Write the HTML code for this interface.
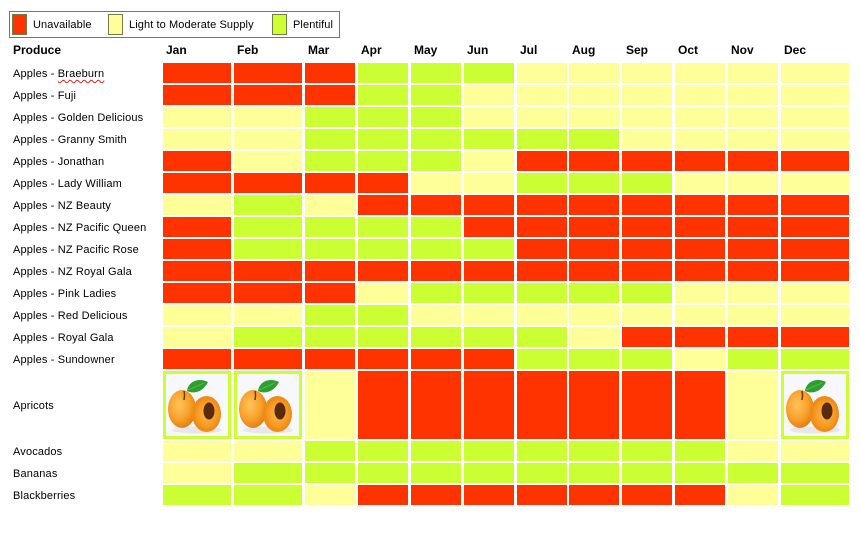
<!DOCTYPE html>
<html><head><meta charset="utf-8">
<style>
*{margin:0;padding:0;box-sizing:border-box}
html,body{width:860px;height:544px;background:#fff;overflow:hidden}
body{position:relative;font-family:"Liberation Sans",Arial,sans-serif;color:#000}
.lg{position:absolute;left:9px;top:11px;width:331px;height:27px;border:1px solid #6f7f45}
.sw{position:absolute;top:2px;width:15px;height:21px;border:1px solid #6f7f45}
.lt{position:absolute;top:0;line-height:26px;font-size:11px;white-space:nowrap;letter-spacing:0.1px}
.hd{position:absolute;top:43px;font-size:12px;font-weight:bold;line-height:14px;white-space:nowrap}
.row{position:absolute;left:0;width:860px;height:20px}
.lb{position:absolute;left:13px;top:1px;font-size:11px;line-height:20px;white-space:nowrap;letter-spacing:0.15px}
.x{position:absolute;top:0;height:100%;width:50px}
.R{background:#ff3300}.Y{background:#ffff99}.G{background:#ccff33}
.m1{left:163px;width:68px}.m2{left:234px;width:68px}.m3{left:305px}.m4{left:358px}.m5{left:411px}.m6{left:464px}
.m7{left:517px}.m8{left:569px}.m9{left:622px}.m10{left:675px}.m11{left:728px}.m12{left:781px;width:68px}
.I{background:#ccff33;padding:3px}
.I svg{display:block;width:62px;height:62px}
.wv{text-decoration:underline wavy #e02020;text-decoration-thickness:1px;text-underline-offset:2px}
</style></head><body>
<svg width="0" height="0" style="position:absolute">
<defs>
<radialGradient id="ga" cx="40%" cy="40%" r="65%"><stop offset="0" stop-color="#ffc45a"/><stop offset="0.6" stop-color="#f7a02a"/><stop offset="1" stop-color="#e07a10"/></radialGradient>
<radialGradient id="gb" cx="50%" cy="50%" r="60%"><stop offset="0" stop-color="#fdbb48"/><stop offset="1" stop-color="#f08a14"/></radialGradient>
</defs></svg>

<div class="lg">
 <div class="sw R" style="left:2px"></div>
 <div class="lt" style="left:23px">Unavailable</div>
 <div class="sw Y" style="left:98px"></div>
 <div class="lt" style="left:119px">Light to Moderate Supply</div>
 <div class="sw G" style="left:262px"></div>
 <div class="lt" style="left:283px">Plentiful</div>
</div>

<div class="hd" style="left:13px">Produce</div>
<div class="hd" style="left:166px">Jan</div>
<div class="hd" style="left:237px">Feb</div>
<div class="hd" style="left:308px">Mar</div>
<div class="hd" style="left:361px">Apr</div>
<div class="hd" style="left:414px">May</div>
<div class="hd" style="left:467px">Jun</div>
<div class="hd" style="left:520px">Jul</div>
<div class="hd" style="left:572px">Aug</div>
<div class="hd" style="left:626px">Sep</div>
<div class="hd" style="left:678px">Oct</div>
<div class="hd" style="left:731px">Nov</div>
<div class="hd" style="left:784px">Dec</div>

<div class="row" style="top:63px"><div class="lb">Apples - <span class="wv">Braeburn</span></div>
<div class="x m1 R"></div><div class="x m2 R"></div><div class="x m3 R"></div><div class="x m4 G"></div><div class="x m5 G"></div><div class="x m6 G"></div><div class="x m7 Y"></div><div class="x m8 Y"></div><div class="x m9 Y"></div><div class="x m10 Y"></div><div class="x m11 Y"></div><div class="x m12 Y"></div></div>

<div class="row" style="top:85px"><div class="lb">Apples - Fuji</div>
<div class="x m1 R"></div><div class="x m2 R"></div><div class="x m3 R"></div><div class="x m4 G"></div><div class="x m5 G"></div><div class="x m6 Y"></div><div class="x m7 Y"></div><div class="x m8 Y"></div><div class="x m9 Y"></div><div class="x m10 Y"></div><div class="x m11 Y"></div><div class="x m12 Y"></div></div>

<div class="row" style="top:107px"><div class="lb">Apples - Golden Delicious</div>
<div class="x m1 Y"></div><div class="x m2 Y"></div><div class="x m3 G"></div><div class="x m4 G"></div><div class="x m5 G"></div><div class="x m6 Y"></div><div class="x m7 Y"></div><div class="x m8 Y"></div><div class="x m9 Y"></div><div class="x m10 Y"></div><div class="x m11 Y"></div><div class="x m12 Y"></div></div>

<div class="row" style="top:129px"><div class="lb">Apples - Granny Smith</div>
<div class="x m1 Y"></div><div class="x m2 Y"></div><div class="x m3 G"></div><div class="x m4 G"></div><div class="x m5 G"></div><div class="x m6 G"></div><div class="x m7 G"></div><div class="x m8 G"></div><div class="x m9 Y"></div><div class="x m10 Y"></div><div class="x m11 Y"></div><div class="x m12 Y"></div></div>

<div class="row" style="top:151px"><div class="lb">Apples - Jonathan</div>
<div class="x m1 R"></div><div class="x m2 Y"></div><div class="x m3 G"></div><div class="x m4 G"></div><div class="x m5 G"></div><div class="x m6 Y"></div><div class="x m7 R"></div><div class="x m8 R"></div><div class="x m9 R"></div><div class="x m10 R"></div><div class="x m11 R"></div><div class="x m12 R"></div></div>

<div class="row" style="top:173px"><div class="lb">Apples - Lady William</div>
<div class="x m1 R"></div><div class="x m2 R"></div><div class="x m3 R"></div><div class="x m4 R"></div><div class="x m5 Y"></div><div class="x m6 Y"></div><div class="x m7 G"></div><div class="x m8 G"></div><div class="x m9 G"></div><div class="x m10 Y"></div><div class="x m11 Y"></div><div class="x m12 Y"></div></div>

<div class="row" style="top:195px"><div class="lb">Apples - NZ Beauty</div>
<div class="x m1 Y"></div><div class="x m2 G"></div><div class="x m3 Y"></div><div class="x m4 R"></div><div class="x m5 R"></div><div class="x m6 R"></div><div class="x m7 R"></div><div class="x m8 R"></div><div class="x m9 R"></div><div class="x m10 R"></div><div class="x m11 R"></div><div class="x m12 R"></div></div>

<div class="row" style="top:217px"><div class="lb">Apples - NZ Pacific Queen</div>
<div class="x m1 R"></div><div class="x m2 G"></div><div class="x m3 G"></div><div class="x m4 G"></div><div class="x m5 G"></div><div class="x m6 R"></div><div class="x m7 R"></div><div class="x m8 R"></div><div class="x m9 R"></div><div class="x m10 R"></div><div class="x m11 R"></div><div class="x m12 R"></div></div>

<div class="row" style="top:239px"><div class="lb">Apples - NZ Pacific Rose</div>
<div class="x m1 R"></div><div class="x m2 G"></div><div class="x m3 G"></div><div class="x m4 G"></div><div class="x m5 G"></div><div class="x m6 G"></div><div class="x m7 R"></div><div class="x m8 R"></div><div class="x m9 R"></div><div class="x m10 R"></div><div class="x m11 R"></div><div class="x m12 R"></div></div>

<div class="row" style="top:261px"><div class="lb">Apples - NZ Royal Gala</div>
<div class="x m1 R"></div><div class="x m2 R"></div><div class="x m3 R"></div><div class="x m4 R"></div><div class="x m5 R"></div><div class="x m6 R"></div><div class="x m7 R"></div><div class="x m8 R"></div><div class="x m9 R"></div><div class="x m10 R"></div><div class="x m11 R"></div><div class="x m12 R"></div></div>

<div class="row" style="top:283px"><div class="lb">Apples - Pink Ladies</div>
<div class="x m1 R"></div><div class="x m2 R"></div><div class="x m3 R"></div><div class="x m4 Y"></div><div class="x m5 G"></div><div class="x m6 G"></div><div class="x m7 G"></div><div class="x m8 G"></div><div class="x m9 G"></div><div class="x m10 Y"></div><div class="x m11 Y"></div><div class="x m12 Y"></div></div>

<div class="row" style="top:305px"><div class="lb">Apples - Red Delicious</div>
<div class="x m1 Y"></div><div class="x m2 Y"></div><div class="x m3 G"></div><div class="x m4 G"></div><div class="x m5 Y"></div><div class="x m6 Y"></div><div class="x m7 Y"></div><div class="x m8 Y"></div><div class="x m9 Y"></div><div class="x m10 Y"></div><div class="x m11 Y"></div><div class="x m12 Y"></div></div>

<div class="row" style="top:327px"><div class="lb">Apples - Royal Gala</div>
<div class="x m1 Y"></div><div class="x m2 G"></div><div class="x m3 G"></div><div class="x m4 G"></div><div class="x m5 G"></div><div class="x m6 G"></div><div class="x m7 G"></div><div class="x m8 Y"></div><div class="x m9 R"></div><div class="x m10 R"></div><div class="x m11 R"></div><div class="x m12 R"></div></div>

<div class="row" style="top:349px"><div class="lb">Apples - Sundowner</div>
<div class="x m1 R"></div><div class="x m2 R"></div><div class="x m3 R"></div><div class="x m4 R"></div><div class="x m5 R"></div><div class="x m6 R"></div><div class="x m7 G"></div><div class="x m8 G"></div><div class="x m9 G"></div><div class="x m10 Y"></div><div class="x m11 G"></div><div class="x m12 G"></div></div>

<div class="row" style="top:371px;height:68px"><div class="lb" style="line-height:68px">Apricots</div>
<div class="x m1 I"><svg viewBox="0 0 62 62"><rect width="62" height="62" fill="#f8f8fc"/><ellipse cx="31" cy="56" rx="25" ry="3.5" fill="#e6e6ec"/><ellipse cx="16" cy="35" rx="14" ry="19" fill="url(#ga)"/><path d="M18 17 q1 4 0 9" stroke="#6a3a10" stroke-width="1.5" fill="none"/><ellipse cx="40.5" cy="40" rx="14.5" ry="18" fill="#ee8c14"/><ellipse cx="41" cy="40" rx="12" ry="15" fill="url(#gb)"/><ellipse cx="43" cy="37" rx="5.5" ry="8.5" fill="#5a2a0e"/><path d="M21 17 C22 8 32 3 42 8 C38 16 30 21 21 17 Z" fill="#2e9e2e"/><path d="M22 16 L38 9" stroke="#5cc05c" stroke-width="0.8"/></svg></div>
<div class="x m2 I"><svg viewBox="0 0 62 62"><rect width="62" height="62" fill="#f8f8fc"/><ellipse cx="31" cy="56" rx="25" ry="3.5" fill="#e6e6ec"/><ellipse cx="16" cy="35" rx="14" ry="19" fill="url(#ga)"/><path d="M18 17 q1 4 0 9" stroke="#6a3a10" stroke-width="1.5" fill="none"/><ellipse cx="40.5" cy="40" rx="14.5" ry="18" fill="#ee8c14"/><ellipse cx="41" cy="40" rx="12" ry="15" fill="url(#gb)"/><ellipse cx="43" cy="37" rx="5.5" ry="8.5" fill="#5a2a0e"/><path d="M21 17 C22 8 32 3 42 8 C38 16 30 21 21 17 Z" fill="#2e9e2e"/><path d="M22 16 L38 9" stroke="#5cc05c" stroke-width="0.8"/></svg></div>
<div class="x m3 Y"></div><div class="x m4 R"></div><div class="x m5 R"></div><div class="x m6 R"></div><div class="x m7 R"></div><div class="x m8 R"></div><div class="x m9 R"></div><div class="x m10 R"></div><div class="x m11 Y"></div>
<div class="x m12 I"><svg viewBox="0 0 62 62"><rect width="62" height="62" fill="#f8f8fc"/><ellipse cx="31" cy="56" rx="25" ry="3.5" fill="#e6e6ec"/><ellipse cx="16" cy="35" rx="14" ry="19" fill="url(#ga)"/><path d="M18 17 q1 4 0 9" stroke="#6a3a10" stroke-width="1.5" fill="none"/><ellipse cx="40.5" cy="40" rx="14.5" ry="18" fill="#ee8c14"/><ellipse cx="41" cy="40" rx="12" ry="15" fill="url(#gb)"/><ellipse cx="43" cy="37" rx="5.5" ry="8.5" fill="#5a2a0e"/><path d="M21 17 C22 8 32 3 42 8 C38 16 30 21 21 17 Z" fill="#2e9e2e"/><path d="M22 16 L38 9" stroke="#5cc05c" stroke-width="0.8"/></svg></div>
</div>

<div class="row" style="top:441px"><div class="lb">Avocados</div>
<div class="x m1 Y"></div><div class="x m2 Y"></div><div class="x m3 G"></div><div class="x m4 G"></div><div class="x m5 G"></div><div class="x m6 G"></div><div class="x m7 G"></div><div class="x m8 G"></div><div class="x m9 G"></div><div class="x m10 G"></div><div class="x m11 Y"></div><div class="x m12 Y"></div></div>

<div class="row" style="top:463px"><div class="lb">Bananas</div>
<div class="x m1 Y"></div><div class="x m2 G"></div><div class="x m3 G"></div><div class="x m4 G"></div><div class="x m5 G"></div><div class="x m6 G"></div><div class="x m7 G"></div><div class="x m8 G"></div><div class="x m9 G"></div><div class="x m10 G"></div><div class="x m11 G"></div><div class="x m12 G"></div></div>

<div class="row" style="top:485px"><div class="lb">Blackberries</div>
<div class="x m1 G"></div><div class="x m2 G"></div><div class="x m3 Y"></div><div class="x m4 R"></div><div class="x m5 R"></div><div class="x m6 R"></div><div class="x m7 R"></div><div class="x m8 R"></div><div class="x m9 R"></div><div class="x m10 R"></div><div class="x m11 Y"></div><div class="x m12 G"></div></div>

</body></html>
